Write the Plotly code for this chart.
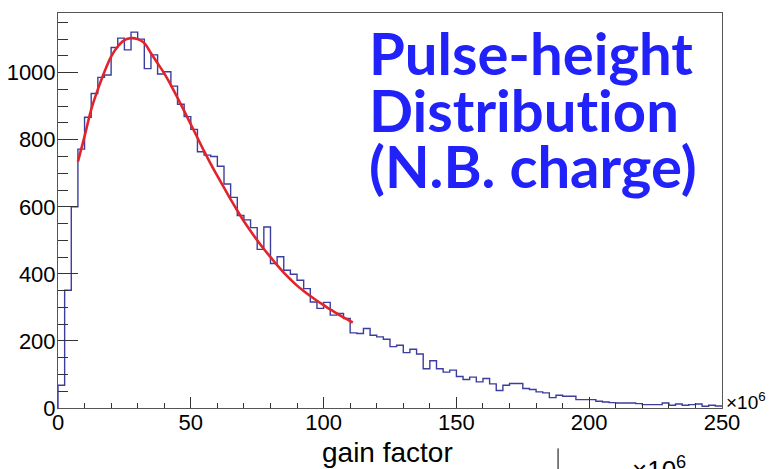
import numpy as np
import plotly.graph_objects as go

# ---- data ----
bin_width = 2.5          # gain factor (x10^6) per bin
x_start = 0.0
counts = [68, 351, 600, 772, 867, 938, 986, 993, 1075, 1103,
          1068, 1121, 1100, 1012, 1053, 996, 1003, 960, 906, 869,
          831, 764, 754, 750, 721, 668, 628, 574, 561, 538,
          473, 540, 431, 451, 411, 399, 381, 356, 316, 297,
          315, 277, 282, 267, 224, 222, 237, 217, 212, 205,
          183, 187, 165, 175, 161, 117, 141, 117, 107, 113,
          94, 85, 92, 78, 88, 72, 52, 68, 73, 73,
          58, 55, 48, 45, 31, 38, 35, 35, 25, 25,
          25, 20, 18, 16, 15, 15, 15, 13, 10, 10,
          10, 15, 8, 12, 8, 10, 12, 5, 8, 6]

fit_x = [7.5, 10, 12.5, 15, 17.5, 20, 22.5, 25, 27.5, 30, 32.5, 35, 37.5, 40,
         42.5, 45, 47.5, 50, 52.5, 55, 57.5, 60, 62.5, 65, 67.5, 70, 72.5, 75,
         77.5, 80, 82.5, 85, 87.5, 90, 92.5, 95, 97.5, 100, 102.5, 105, 107.5,
         110, 111]
fit_y = [735, 810, 890, 950, 1003, 1048, 1078, 1097, 1103, 1100, 1088, 1058, 1028, 998,
         963, 925, 886, 846, 806, 766, 728, 692, 657, 622, 589, 557, 528, 500,
         474, 450, 426, 404, 384, 365, 349, 334, 320, 307, 294, 282, 270,
         259, 255]

x_ticks = [0, 50, 100, 150, 200, 250]
y_ticks = [0, 200, 400, 600, 800, 1000]
# the "t" glyphs are wrapped in a span so the font does not merge "ti" into a ligature
T_SPAN = '<span style="font-size:58.2px">t</span>'
title_lines = ["Pulse-height",
               "Distribu" + T_SPAN + "ion",
               "(N.B. charge)"]

# ---- build step outline from the bin counts ----
n = len(counts)
edges = x_start + bin_width * np.arange(n + 1)
hx = np.concatenate([[edges[0]], edges])
hy = np.concatenate([[0], counts, [counts[-1]]])

fig = go.Figure()
fig.add_trace(go.Scatter(x=hx, y=hy, mode="lines", line_shape="hv",
                         line=dict(color="#3d3d9e", width=1.4),
                         hoverinfo="skip", showlegend=False))
fig.add_trace(go.Scatter(x=fit_x, y=fit_y, mode="lines", line_shape="spline",
                         line=dict(color="#e3232b", width=2.6),
                         hoverinfo="skip", showlegend=False))

W, H = 779, 469
L, R, T, B = 57.5, 722.5, 13.3, 407.7
pw, ph = R - L, B - T

def py(p):
    return (B - p) / ph

def px(p):
    return (p - L) / pw

fig.update_layout(
    width=W, height=H,
    margin=dict(l=L, r=W - R, t=T, b=H - B, autoexpand=False),
    paper_bgcolor="white", plot_bgcolor="white",
    font=dict(family="Liberation Sans, Arial, sans-serif", color="black", size=22),
    showlegend=False,
)
fig.update_xaxes(range=[0, 250], tickvals=x_ticks, ticks="inside", ticklen=11,
                 tickwidth=1, tickcolor="#333", showline=True, linecolor="#555",
                 linewidth=1, mirror=True, showgrid=False, zeroline=False,
                 automargin=False, ticklabelstandoff=-5,
                 tickfont=dict(size=22),
                 minor=dict(dtick=10, ticks="inside", ticklen=5.5, tickcolor="#333",
                            showgrid=False))
fig.update_yaxes(range=[0, 1178], tickvals=y_ticks, ticks="inside", ticklen=20,
                 tickwidth=1, tickcolor="#333", showline=True, linecolor="#555",
                 linewidth=1, mirror=True, showgrid=False, zeroline=False,
                 automargin=False, ticklabelstandoff=-3,
                 tickfont=dict(size=22),
                 minor=dict(dtick=50, ticks="inside", ticklen=10, tickcolor="#333",
                            showgrid=False))

# axis title and exponent
fig.add_annotation(text="gain factor", xref="paper", yref="paper",
                   x=px(387), y=py(452), xanchor="center", yanchor="middle",
                   showarrow=False, font=dict(size=28, family="Liberation Sans, Arial"))
fig.add_annotation(text="×10<sup>6</sup>", xref="paper", yref="paper",
                   x=px(725), y=py(401), xanchor="left", yanchor="middle",
                   showarrow=False, font=dict(size=19, family="Liberation Sans, Arial"))

# big blue title text
for line, base in zip(title_lines, [70, 127, 183]):
    fig.add_annotation(text="<b>%s</b>" % line, xref="paper", yref="paper",
                       x=px(367), y=py(base - 17), xanchor="left", yanchor="middle",
                       showarrow=False,
                       font=dict(size=58, family="Lato", color="#2121fa"))

# slide remnants below the chart
fig.add_shape(type="line", xref="paper", yref="paper",
              x0=px(558.3), x1=px(558.3), y0=py(448), y1=py(475),
              line=dict(color="black", width=1))
fig.add_annotation(text="×10<sup>6</sup>", xref="paper", yref="paper",
                   x=px(630), y=py(468), xanchor="left", yanchor="middle",
                   showarrow=False, font=dict(size=26, family="Liberation Sans, Arial"))

fig.write_html("out.html")
